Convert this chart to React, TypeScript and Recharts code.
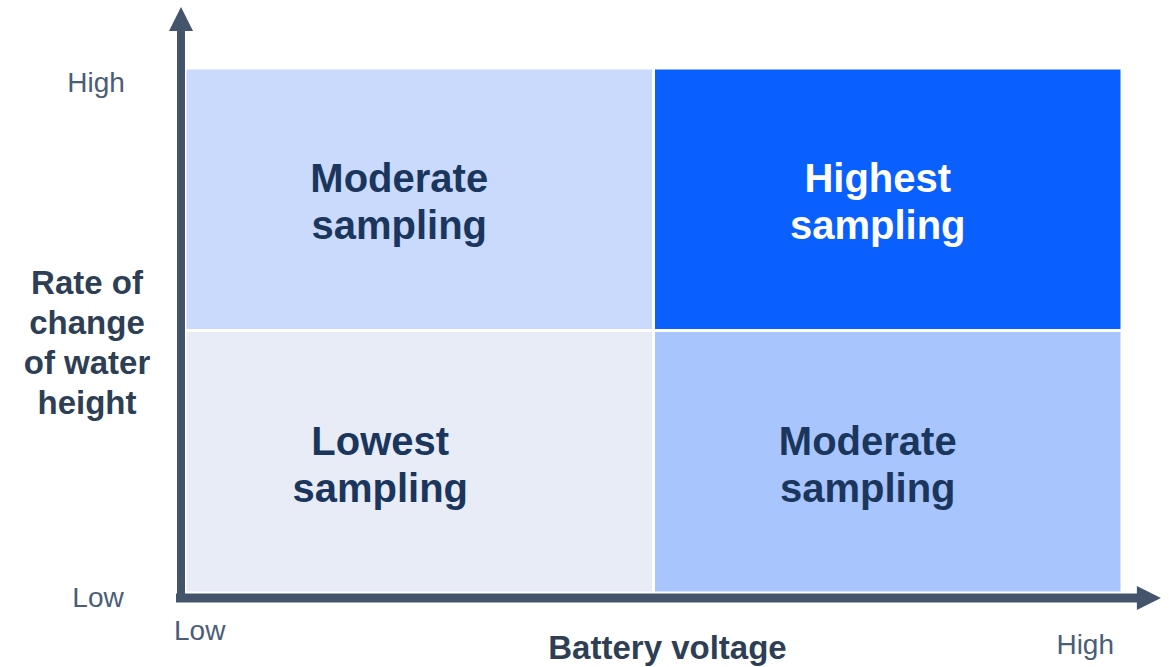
import React from 'react';
import { ComposedChart, XAxis, YAxis, ReferenceArea, ReferenceLine, Label } from 'recharts';

// quadrant grid (battery voltage x rate of change)
const quadrantNames = ['Moderate sampling', 'Highest sampling', 'Lowest sampling', 'Moderate sampling'];
const quadrantX = [[0, 1], [1, 2], [0, 1], [1, 2]];
const quadrantY = [[1, 2], [1, 2], [0, 1], [0, 1]];
const xTickLabels = ['Low', 'High'];
const yTickLabels = ['Low', 'High'];
const xTitle = 'Battery voltage';
const yTitleLines = ['Rate of', 'change', 'of water', 'height'];

const quadrantFill = ['#C9DAFD', '#0A5FFF', '#E8ECF6', '#A8C5FD'];
const quadrantText = ['#1B365D', '#FFFFFF', '#1B365D', '#1B365D'];
const quadrantShift = [-20, -10, -39, -20];

const FONT = '"Liberation Sans", Arial, sans-serif';
const AXIS = '#44546A';
const TICK = '#4B5D78';

function VArrow(props: any) {
  const { x1, y1, y2 } = props;
  const x = x1 - 4;
  return (
    <g>
      <line x1={x} y1={y1 + 9} x2={x} y2={y2 + 22} stroke={AXIS} strokeWidth={8} />
      <polygon points={`${x},${y2} ${x - 12},${y2 + 24} ${x + 12},${y2 + 24}`} fill={AXIS} />
    </g>
  );
}

function HArrow(props: any) {
  const { x1, y1, x2 } = props;
  const y = y1 + 5;
  return (
    <g>
      <line x1={x1 - 9} y1={y} x2={x2 - 22} y2={y} stroke={AXIS} strokeWidth={9} />
      <polygon points={`${x2},${y} ${x2 - 24},${y - 12} ${x2 - 24},${y + 12}`} fill={AXIS} />
    </g>
  );
}

function XTick(props: any) {
  const { x, y, payload, index } = props;
  const txt = xTickLabels[index];
  const first = payload.value === 0;
  return (
    <text x={first ? x - 11 : x - 8} y={first ? y + 39 : y + 53} textAnchor={first ? 'start' : 'end'}
      fontFamily={FONT} fontSize={28} fill={TICK}>{txt}</text>
  );
}

function YTick(props: any) {
  const { y, payload, index } = props;
  const txt = yTickLabels[index];
  const top = payload.value === 2;
  return (
    <text x={top ? 96 : 98} y={top ? y + 24 : y + 14} textAnchor="middle"
      fontFamily={FONT} fontSize={28} fill={TICK}>{txt}</text>
  );
}

function YTitle(props: any) {
  const { viewBox } = props;
  const cx = 87;
  const cy = viewBox.y + viewBox.height / 2;
  return (
    <text x={cx} textAnchor="middle" fontFamily={FONT} fontSize={33} fontWeight="bold" fill="#2E3F55">
      {yTitleLines.map((l, i) => (
        <tspan key={i} x={cx} y={cy - 37 + i * 40}>{l}</tspan>
      ))}
    </text>
  );
}

function XTitle(props: any) {
  const { viewBox } = props;
  return (
    <text x={viewBox.x + viewBox.width / 2 + 14} y={659} textAnchor="middle" fontFamily={FONT}
      fontSize={33} fontWeight="bold" fill="#2E3F55">{xTitle}</text>
  );
}

function quadLabel(i: number) {
  return (props: any) => {
    const { viewBox } = props;
    const cx = viewBox.x + viewBox.width / 2 + quadrantShift[i];
    const cy = viewBox.y + viewBox.height / 2;
    const [a, b] = quadrantNames[i].split(' ');
    return (
      <text textAnchor="middle" fontFamily={FONT} fontSize={40} fontWeight="bold" fill={quadrantText[i]}>
        <tspan x={cx} y={cy - 7}>{a}</tspan>
        <tspan x={cx} y={cy + 40}>{b}</tspan>
      </text>
    );
  };
}

export default function App() {
  return (
    <div style={{ position: 'absolute', left: 0, top: 0, background: '#fff' }}>
      <ComposedChart width={1169} height={667} data={[]} margin={{ top: 68, right: 47, bottom: 0, left: 0 }}>
        <XAxis type="number" dataKey="x" domain={[0, 2]} ticks={[0, 2]} height={74}
          axisLine={false} tickLine={false} tick={<XTick />} allowDataOverflow>
          <Label content={<XTitle />} />
        </XAxis>
        <YAxis type="number" dataKey="y" domain={[0, 2]} ticks={[0, 2]} width={185}
          axisLine={false} tickLine={false} tick={<YTick />} allowDataOverflow>
          <Label content={<YTitle />} />
        </YAxis>
        {quadrantNames.map((n, i) => (
          <ReferenceArea key={i} x1={quadrantX[i][0]} x2={quadrantX[i][1]} y1={quadrantY[i][0]} y2={quadrantY[i][1]}
            fill={quadrantFill[i]} fillOpacity={1} stroke="#FFFFFF" strokeWidth={3} ifOverflow="visible"
            label={quadLabel(i)} />
        ))}
        <ReferenceLine segment={[{ x: 0, y: 0 }, { x: 0, y: 2.232 }]} ifOverflow="visible" shape={VArrow} />
        <ReferenceLine segment={[{ x: 0, y: 0 }, { x: 2.083, y: 0 }]} ifOverflow="visible" shape={HArrow} />
      </ComposedChart>
    </div>
  );
}
